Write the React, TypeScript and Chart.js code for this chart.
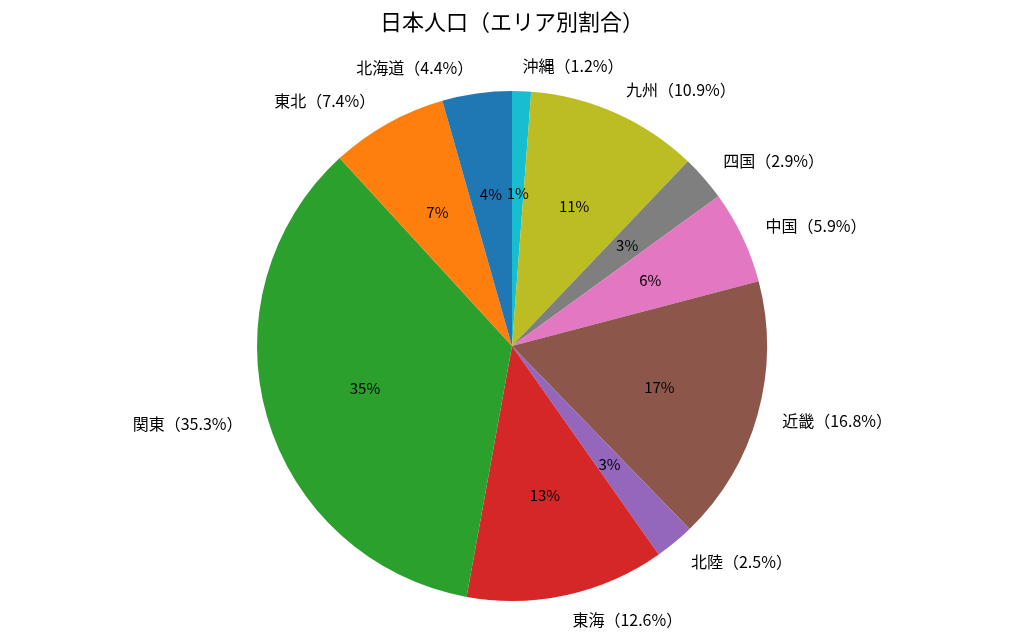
import React, { useEffect, useRef } from "react";
import { Chart, registerables } from "chart.js";

Chart.register(...registerables);

const TITLE = "日本人口（エリア別割合）";
const REGIONS = ["北海道", "東北", "関東", "東海", "北陸", "近畿", "中国", "四国", "九州", "沖縄"];
const SHARES = [4.4, 7.4, 35.3, 12.6, 2.5, 16.8, 5.9, 2.9, 10.9, 1.2];
const COLORS = [
  "#1f77b4", "#ff7f0e", "#2ca02c", "#d62728", "#9467bd",
  "#8c564b", "#e377c2", "#7f7f7f", "#bcbd22", "#17becf",
];

const FONT = '"Noto Sans CJK JP", "Noto Sans", sans-serif';

export default function App() {
  const ref = useRef<HTMLCanvasElement | null>(null);

  useEffect(() => {
    if (!ref.current) return;
    // matplotlib draws counter-clockwise from the top; Chart.js draws clockwise, so reverse.
    const labels = [...REGIONS].reverse();
    const values = [...SHARES].reverse();
    const colors = [...COLORS].reverse();
    const total = SHARES.reduce((a, b) => a + b, 0);

    const labelPlugin = {
      id: "pieLabels",
      afterDraw(chart: any) {
        const ctx = chart.ctx;
        ctx.save();
        // title
        ctx.fillStyle = "#000";
        ctx.font = `22px ${FONT}`;
        ctx.textAlign = "center";
        ctx.textBaseline = "middle";
        ctx.fillText(TITLE, 512, 22);

        const meta = chart.getDatasetMeta(0);
        meta.data.forEach((arc: any, i: number) => {
          const mid = (arc.startAngle + arc.endAngle) / 2;
          const r = arc.outerRadius;
          const cx = arc.x;
          const cy = arc.y;
          const c = Math.cos(mid);
          const s = Math.sin(mid);
          // outer label
          ctx.font = `16px ${FONT}`;
          ctx.textBaseline = "middle";
          ctx.textAlign = c > 0 ? "left" : "right";
          ctx.fillText(`${labels[i]}（${values[i].toFixed(1)}%）`, cx + 1.1 * r * c, cy + 1.1 * r * s);
          // percent label
          ctx.font = `15px ${FONT}`;
          ctx.textAlign = "center";
          const pct = Math.round((values[i] / total) * 100);
          ctx.fillText(`${pct}%`, cx + 0.6 * r * c, cy + 0.6 * r * s);
        });
        ctx.restore();
      },
    };

    const chart = new Chart(ref.current, {
      type: "pie",
      data: {
        labels,
        datasets: [
          {
            data: values,
            backgroundColor: colors,
            borderWidth: 0,
            hoverOffset: 0,
          },
        ],
      },
      options: {
        responsive: false,
        animation: false,
        devicePixelRatio: 1,
        layout: { padding: { top: 91, bottom: 38, left: 0, right: 0 } },
        plugins: {
          legend: { display: false },
          tooltip: { enabled: false },
          title: { display: false },
        },
      },
      plugins: [labelPlugin],
    } as any);

    return () => chart.destroy();
  }, []);

  return (
    <div style={{ position: "absolute", left: 0, top: 0, width: 1024, height: 639, background: "#fff" }}>
      <canvas ref={ref} width={1024} height={639} style={{ width: 1024, height: 639, display: "block" }} />
    </div>
  );
}
